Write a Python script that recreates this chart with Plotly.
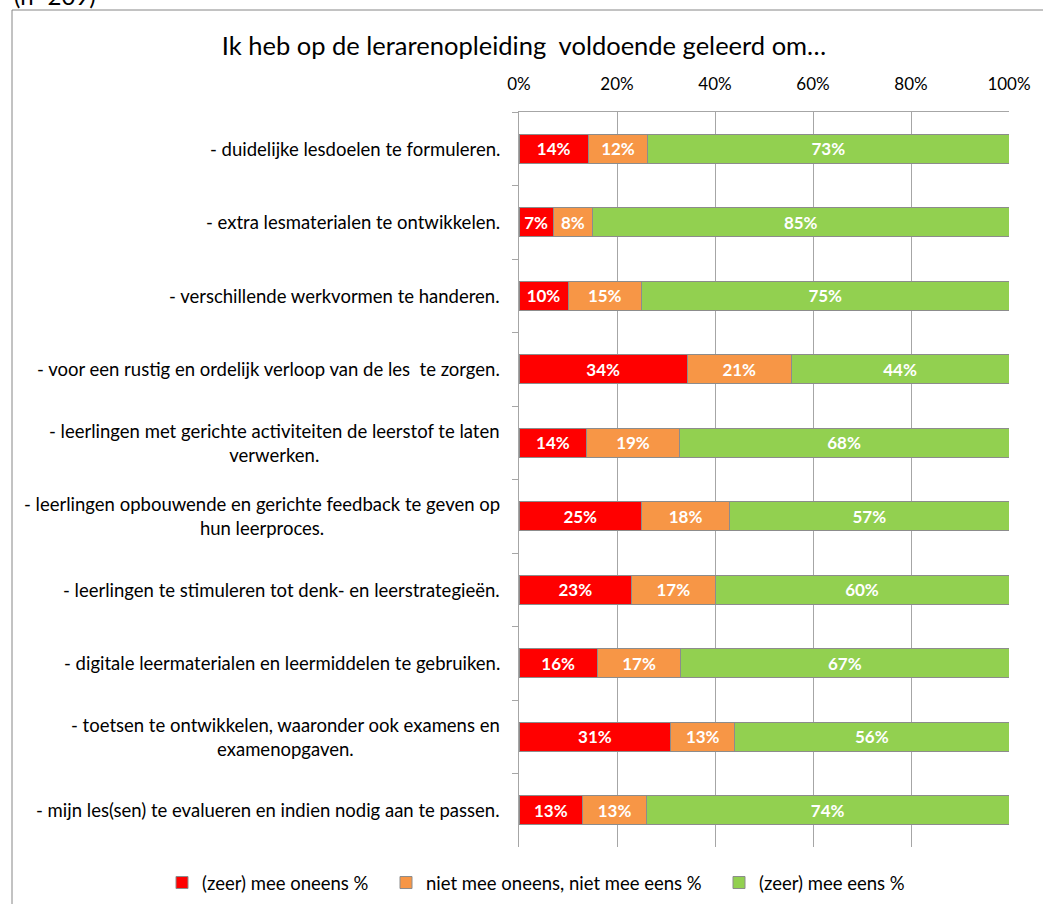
import plotly.graph_objects as go

categories = [
    "- duidelijke lesdoelen te formuleren.",
    "- extra lesmaterialen te ontwikkelen.",
    "- verschillende werkvormen te handeren.",
    "- voor een rustig en ordelijk verloop van de les  te zorgen.",
    "- leerlingen met gerichte activiteiten de leerstof te laten<br>verwerken.",
    "- leerlingen opbouwende en gerichte feedback te geven op<br>hun leerproces.",
    "- leerlingen te stimuleren tot denk- en leerstrategieën.",
    "- digitale leermaterialen en leermiddelen te gebruiken.",
    "- toetsen te ontwikkelen, waaronder ook examens en<br>examenopgaven.",
    "- mijn les(sen) te evalueren en indien nodig aan te passen.",
]
oneens = [14, 7, 10, 34, 14, 25, 23, 16, 31, 13]
neutraal = [12, 8, 15, 21, 19, 18, 17, 17, 13, 13]
eens = [73, 85, 75, 44, 68, 57, 60, 67, 56, 74]

series_names = ["(zeer) mee oneens %", "niet mee oneens, niet mee eens %", "(zeer) mee eens %"]
series_values = [oneens, neutraal, eens]
series_colors = ["#FF0000", "#F79646", "#92D050"]

x_ticks = [0, 20, 40, 60, 80, 100]
title_text = "Ik heb op de lerarenopleiding  voldoende geleerd om…"
n_text = "(n=209)"

FONT = "Lato"

W, H = 1043, 904
L, R, T, B = 519, 34, 112, 57
PW, PH = W - L - R, H - T - B

def px_x(x):
    return (x - L) / PW

def px_y(y):
    return (H - B - y) / PH

legend_ids = ["legend", "legend2", "legend3"]
legend_left_px = [162, 386, 719]

fig = go.Figure()
for name, vals, col, lid in zip(series_names, series_values, series_colors, legend_ids):
    fig.add_trace(go.Bar(
        y=categories, x=vals, name=name, orientation="h", legend=lid,
        showlegend=True,
        marker=dict(color=col, line=dict(color="#8C8C8C", width=1)),
        text=[f"{v}%" for v in vals], texttemplate="%{text}",
        textposition="inside", insidetextanchor="middle",
        textfont=dict(family=FONT, size=17, color="white", weight="bold"),
        hoverinfo="skip",
    ))

annotations = []
for c in categories:
    annotations.append(dict(
        x=0, xref="paper", y=c, yref="y", xshift=-17,
        xanchor="right", yanchor="middle", align="center",
        text=c, showarrow=False,
        font=dict(family=FONT, size=18.5, color="black"),
    ))
annotations.append(dict(
    x=px_x(12), xref="paper", y=px_y(-5), yref="paper",
    xanchor="left", yanchor="middle", text=n_text, showarrow=False,
    font=dict(family=FONT, size=24, color="black"),
))

legend_style = dict(orientation="h", xref="paper", xanchor="left",
                    yref="paper", y=px_y(883), yanchor="middle",
                    font=dict(family=FONT, size=18.5, color="black"),
                    bgcolor="rgba(0,0,0,0)")
legends = {lid: dict(legend_style, x=px_x(xp)) for lid, xp in zip(legend_ids, legend_left_px)}

fig.update_layout(
    width=W, height=H, showlegend=True,
    margin=dict(l=L, r=R, t=T, b=B, pad=0, autoexpand=False),
    paper_bgcolor="white", plot_bgcolor="white",
    barmode="stack", barnorm="percent", bargap=0.605,
    title=dict(text=title_text, x=524 / W, xref="container", xanchor="center",
               y=1 - 46 / H, yref="container", yanchor="middle",
               font=dict(family=FONT, size=25.5, color="black")),
    font=dict(family=FONT, size=15, color="black"),
    xaxis=dict(side="top", range=[0, 100], tickvals=x_ticks,
               ticktext=[f"{t}%" for t in x_ticks], showgrid=True,
               gridcolor="#A6A6A6", gridwidth=1, zeroline=False,
               showline=True, linecolor="#A6A6A6", linewidth=1,
               ticks="", ticklabelstandoff=14,
               tickfont=dict(family=FONT, size=17, color="black"),
               fixedrange=True),
    yaxis=dict(categoryorder="array", categoryarray=categories,
               autorange="reversed", showticklabels=False,
               showline=True, linecolor="#A6A6A6", linewidth=1,
               ticks="outside", tickson="boundaries", ticklen=6,
               tickcolor="#A6A6A6", showgrid=False, zeroline=False,
               fixedrange=True),
    annotations=annotations,
    shapes=[dict(type="rect", xref="paper", yref="paper",
                 x0=px_x(12), y0=px_y(10), x1=px_x(1100), y1=px_y(960),
                 line=dict(color="#868686", width=1), fillcolor="rgba(0,0,0,0)",
                 layer="below")],
    **legends,
)

fig.write_html(
    "out.html",
    config={"displayModeBar": False},
    post_script="document.body.style.margin='0';document.body.style.overflow='hidden';",
)
